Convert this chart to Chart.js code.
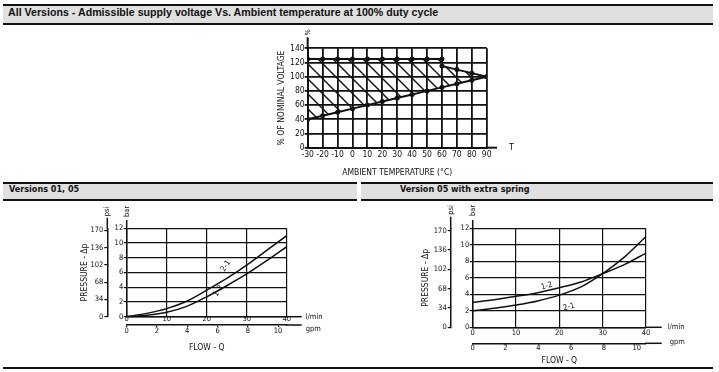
<!DOCTYPE html>
<html>
<head>
<meta charset="utf-8">
<script src="https://cdn.jsdelivr.net/npm/chart.js"></script>
<style>
  html, body { margin: 0; padding: 0; background: #fff; }
  body { width: 719px; height: 372px; position: relative; overflow: hidden; }
  .head { position: absolute; box-sizing: border-box; background: #e0e0e0; color: #111;
          border-top: 2px solid #111; border-bottom: 2px solid #111; white-space: nowrap; }
  .head span { display: inline-block; transform-origin: left center; }
  #h1 { left: 3px; top: 4px; width: 710px; height: 21px; padding-left: 5px; line-height: 17px;
        font: bold 11.5px 'Liberation Sans Narrow', 'Arial Narrow', sans-serif; }
  #h1 span { transform: scaleX(0.925); }
  #h2, #h3 { top: 182px; height: 19px; line-height: 15px;
        font: bold 9px 'DejaVu Sans Condensed', 'DejaVu Sans', sans-serif; }
  #h2 { left: 3px; width: 354px; padding-left: 6px; }
  #h3 { left: 361px; width: 352px; padding-left: 39px; }
  #rule { position: absolute; left: 3px; top: 367px; width: 710px; height: 2px; background: #111; }
  canvas { position: absolute; }
</style>
</head>
<body>
<div class="head" id="h1"><span>All Versions - Admissible supply voltage Vs. Ambient temperature at 100% duty cycle</span></div>
<div class="head" id="h2"><span>Versions 01, 05</span></div>
<div class="head" id="h3"><span>Version 05 with extra spring</span></div>
<div id="rule"></div>
<canvas id="c1" width="300" height="153" style="left:240px;top:26px"></canvas>
<canvas id="c2" width="360" height="155" style="left:0px;top:200px"></canvas>
<canvas id="c3" width="359" height="168" style="left:360px;top:200px"></canvas>
<script>
// --- data ---
const TEMP_TICKS = [-30, -20, -10, 0, 10, 20, 30, 40, 50, 60, 70, 80, 90];
const VOLT_TICKS = [0, 20, 40, 60, 80, 100, 120, 140];
const TEMP_LOW = [-30, -20, -10, 0, 10, 20, 30, 40, 50, 60, 70, 80, 90];
const VOLT_LOW = [40, 45, 50, 55, 60, 65, 70, 75, 80, 85, 90, 95, 100];
const TEMP_HIGH = [-30, -20, -10, 0, 10, 20, 30, 40, 50, 60, 60, 70, 80, 90];
const VOLT_HIGH = [125, 125, 125, 125, 125, 125, 125, 125, 125, 125, 115, 110, 105, 100];

const FLOW = [0, 5, 10, 15, 20, 25, 30, 35, 40];          // l/min
const STD_21 = [0, 0.45, 1.1, 2.1, 3.6, 5.2, 7.0, 9.0, 11.0];
const STD_12 = [0, 0.2, 0.6, 1.4, 2.7, 4.2, 5.8, 7.6, 9.5];
const SPR_12 = [3.0, 3.35, 3.75, 4.2, 4.8, 5.5, 6.5, 7.6, 9.0];
const SPR_21 = [2.0, 2.3, 2.7, 3.2, 3.9, 4.9, 6.5, 8.5, 11.0];

const FLOW_TICKS = [0, 10, 20, 30, 40];
const GPM_TICKS = [0, 2, 4, 6, 8, 10];
const BAR_TICKS = [0, 2, 4, 6, 8, 10, 12];
const PSI_TICKS = [0, 34, 68, 102, 136, 170];

const LPM_PER_GPM = 3.785;
const PSI_PER_BAR = 14.504;

const INK = "#111";
const NARROW = "'Liberation Sans Narrow', 'Arial Narrow', 'DejaVu Sans Condensed', sans-serif";

const pts = (xs, ys) => xs.map((x, i) => ({ x, y: ys[i] }));
const setTicks = (vals) => (s) => { s.ticks = vals.map((v) => ({ value: v })); };
const fixW = (w) => (s) => { s.width = w; };
const fixH = (h) => (s) => { s.height = h; };

// axis line extensions, unit labels and curve labels
const extras = {
  id: "extras",
  afterDraw(chart, _args, opts) {
    const ctx = chart.ctx;
    ctx.save();
    ctx.strokeStyle = INK;
    ctx.fillStyle = INK;
    for (const e of opts.axes || []) {
      const s = chart.scales[e.id];
      ctx.lineWidth = e.width;
      ctx.font = e.font;
      ctx.beginPath();
      if (s.isHorizontal()) {
        ctx.moveTo(s.right - 1, s.top);
        ctx.lineTo(s.right + e.len, s.top);
        ctx.stroke();
        if (e.label) {
          ctx.textAlign = "left";
          ctx.textBaseline = "middle";
          ctx.fillText(e.label, s.right + e.len + e.gap, s.top + (e.dy || 0));
        }
      } else {
        ctx.moveTo(s.right, s.top + 1);
        ctx.lineTo(s.right, s.top - e.len);
        ctx.stroke();
        if (e.label) {
          ctx.save();
          ctx.translate(s.right, s.top - e.len - e.gap);
          ctx.rotate(-Math.PI / 2);
          ctx.textAlign = "left";
          ctx.textBaseline = "middle";
          ctx.fillText(e.label, 0, 0);
          ctx.restore();
        }
      }
    }
    for (const t of opts.texts || []) {
      const x = chart.scales.x.getPixelForValue(t.x);
      const y = chart.scales.y.getPixelForValue(t.y);
      ctx.save();
      ctx.translate(x, y);
      ctx.rotate(t.rot * Math.PI / 180);
      ctx.font = "8px " + NARROW;
      ctx.textAlign = "center";
      ctx.textBaseline = "middle";
      ctx.fillText(t.text, 0, 0);
      ctx.restore();
    }
    ctx.restore();
  },
};

function hatch(ctx, step, w) {
  const c = document.createElement("canvas");
  c.width = c.height = step;
  const g = c.getContext("2d");
  g.strokeStyle = INK;
  g.lineWidth = w;
  g.beginPath();
  g.moveTo(-2, -2); g.lineTo(step + 2, step + 2);
  g.moveTo(-2, step - 2); g.lineTo(2, step + 2);
  g.moveTo(step - 2, -2); g.lineTo(step + 2, 2);
  g.stroke();
  return ctx.createPattern(c, "repeat");
}

Chart.defaults.font.family = NARROW;
Chart.defaults.color = INK;
Chart.defaults.animation = false;

// --- top chart: voltage vs ambient temperature ---
const c1 = document.getElementById("c1");
new Chart(c1, {
  type: "line",
  data: {
    datasets: [
      { data: pts(TEMP_HIGH, VOLT_HIGH), fill: "+1", backgroundColor: hatch(c1.getContext("2d"), 15, 1.4),
        borderColor: INK, borderWidth: 2, pointRadius: 2.5, pointBackgroundColor: INK, pointBorderWidth: 0 },
      { data: pts(TEMP_LOW, VOLT_LOW), fill: false,
        borderColor: INK, borderWidth: 2, pointRadius: 2.5, pointBackgroundColor: INK, pointBorderWidth: 0 },
    ],
  },
  options: {
    responsive: false,
    layout: { padding: { left: 37, top: 22.3, right: 53.3, bottom: 0 } },
    plugins: {
      legend: { display: false }, tooltip: { enabled: false },
      extras: {
        axes: [
          { id: "x", len: 10.3, gap: 12, label: "T", width: 2, font: "9px " + NARROW },
          { id: "y", len: 11, gap: 2, label: "%", width: 2, font: "7px " + NARROW },
        ],
      },
    },
    scales: {
      x: {
        type: "linear", min: -30, max: 90, afterBuildTicks: setTicks(TEMP_TICKS), afterFit: fixH(31.3),
        grid: { color: INK, lineWidth: 1.8, drawTicks: false },
        border: { color: INK, width: 2 },
        ticks: { font: { size: 8.5 }, padding: 1.5, autoSkip: false, maxRotation: 0 },
        title: { display: true, text: "AMBIENT TEMPERATURE (°C)", font: { size: 8.5 }, padding: { top: 0, bottom: 1 } },
      },
      y: {
        min: 0, max: 140, afterBuildTicks: setTicks(VOLT_TICKS), afterFit: fixW(30.7),
        grid: { color: INK, lineWidth: 1.8, tickLength: 3 },
        border: { color: INK, width: 2 },
        ticks: { font: { size: 8.5 }, padding: 0, autoSkip: false },
        title: { display: true, text: "% OF NOMINAL VOLTAGE", font: { size: 8.5 }, padding: 0 },
      },
    },
  },
  plugins: [extras],
});

// --- pressure drop charts ---
function pressureChart(id, cfg) {
  return new Chart(document.getElementById(id), {
    type: "line",
    data: {
      datasets: cfg.series.map((ys) => ({
        data: pts(FLOW, ys), borderColor: INK, borderWidth: 1.5, pointRadius: 0,
        fill: false, cubicInterpolationMode: "monotone",
      })),
    },
    options: {
      responsive: false,
      layout: { padding: cfg.padding },
      plugins: {
        legend: { display: false }, tooltip: { enabled: false },
        extras: {
          axes: cfg.ext.map((e) => Object.assign({ width: 1.5, font: "7.5px " + NARROW }, e)),
          texts: cfg.texts,
        },
      },
      scales: {
        x: {
          type: "linear", min: 0, max: 40, afterBuildTicks: setTicks(FLOW_TICKS), afterFit: fixH(cfg.xH),
          grid: { color: INK, lineWidth: 1.2, drawTicks: false },
          border: { color: INK, width: 1.5 },
          ticks: { font: { size: 7.5 }, padding: cfg.xPad, autoSkip: false, maxRotation: 0 },
        },
        gpm: {
          type: "linear", position: "bottom", weight: 1, min: 0, max: 40 / LPM_PER_GPM,
          afterBuildTicks: setTicks(GPM_TICKS), afterFit: fixH(cfg.gpmH),
          grid: { drawOnChartArea: false, color: INK, lineWidth: 1.2, tickLength: 2 },
          border: { color: INK, width: 1.5 },
          ticks: { font: { size: 7.5 }, padding: cfg.gpmPad, autoSkip: false, maxRotation: 0 },
          title: { display: true, text: "FLOW - Q", font: { size: 8.5 }, padding: 0 },
        },
        y: {
          min: 0, max: 12, afterBuildTicks: setTicks(BAR_TICKS), afterFit: fixW(cfg.barW),
          grid: { color: INK, lineWidth: 1.2, tickLength: 3 },
          border: { color: INK, width: 1.5 },
          ticks: { font: { size: 7.5 }, padding: 0.5, autoSkip: false },
        },
        psi: {
          position: "left", weight: 1, min: 0, max: 12 * PSI_PER_BAR,
          afterBuildTicks: setTicks(PSI_TICKS), afterFit: fixW(cfg.psiW),
          grid: { drawOnChartArea: false, color: INK, lineWidth: 1.2, tickLength: 3 },
          border: { color: INK, width: 1.5 },
          ticks: { font: { size: 7.5 }, padding: 1, autoSkip: false },
          title: { display: true, text: "PRESSURE - Δp", font: { size: 8.5 }, padding: 0 },
        },
      },
    },
    plugins: [extras],
  });
}

pressureChart("c2", {
  series: [STD_21, STD_12],
  padding: { left: 80, top: 28.3, right: 73.3, bottom: 2.3 },
  psiW: 27.3, barW: 19.4, xH: 8.3, gpmH: 27.7, xPad: -1.7, gpmPad: -0.5,
  ext: [
    { id: "x", len: 15, gap: 4, label: "l/min" },
    { id: "gpm", len: 15, gap: 4, dy: 4, label: "gpm" },
    { id: "y", len: 8.3, gap: 3, label: "bar" },
    { id: "psi", len: 10.5, gap: 1.5, label: "psi" },
  ],
  texts: [
    { text: "2-1", x: 24.8, y: 6.9, rot: -55 },
    { text: "1-2", x: 22.9, y: 3.5, rot: -55 },
  ],
});

pressureChart("c3", {
  series: [SPR_12, SPR_21],
  padding: { left: 61, top: 28.3, right: 73, bottom: 1.9 },
  psiW: 29.7, barW: 22, xH: 16, gpmH: 22.8, xPad: 1, gpmPad: -1.5,
  ext: [
    { id: "x", len: 15.7, gap: 6, label: "l/min" },
    { id: "gpm", len: 15.7, gap: 8, dy: -1.5, label: "gpm" },
    { id: "y", len: 8.3, gap: 4, label: "bar" },
    { id: "psi", len: 11.6, gap: 2, label: "psi" },
  ],
  texts: [
    { text: "1-2", x: 17.1, y: 5.0, rot: -15 },
    { text: "2-1", x: 22.2, y: 2.46, rot: -15 },
  ],
});
</script>
</body>
</html>
